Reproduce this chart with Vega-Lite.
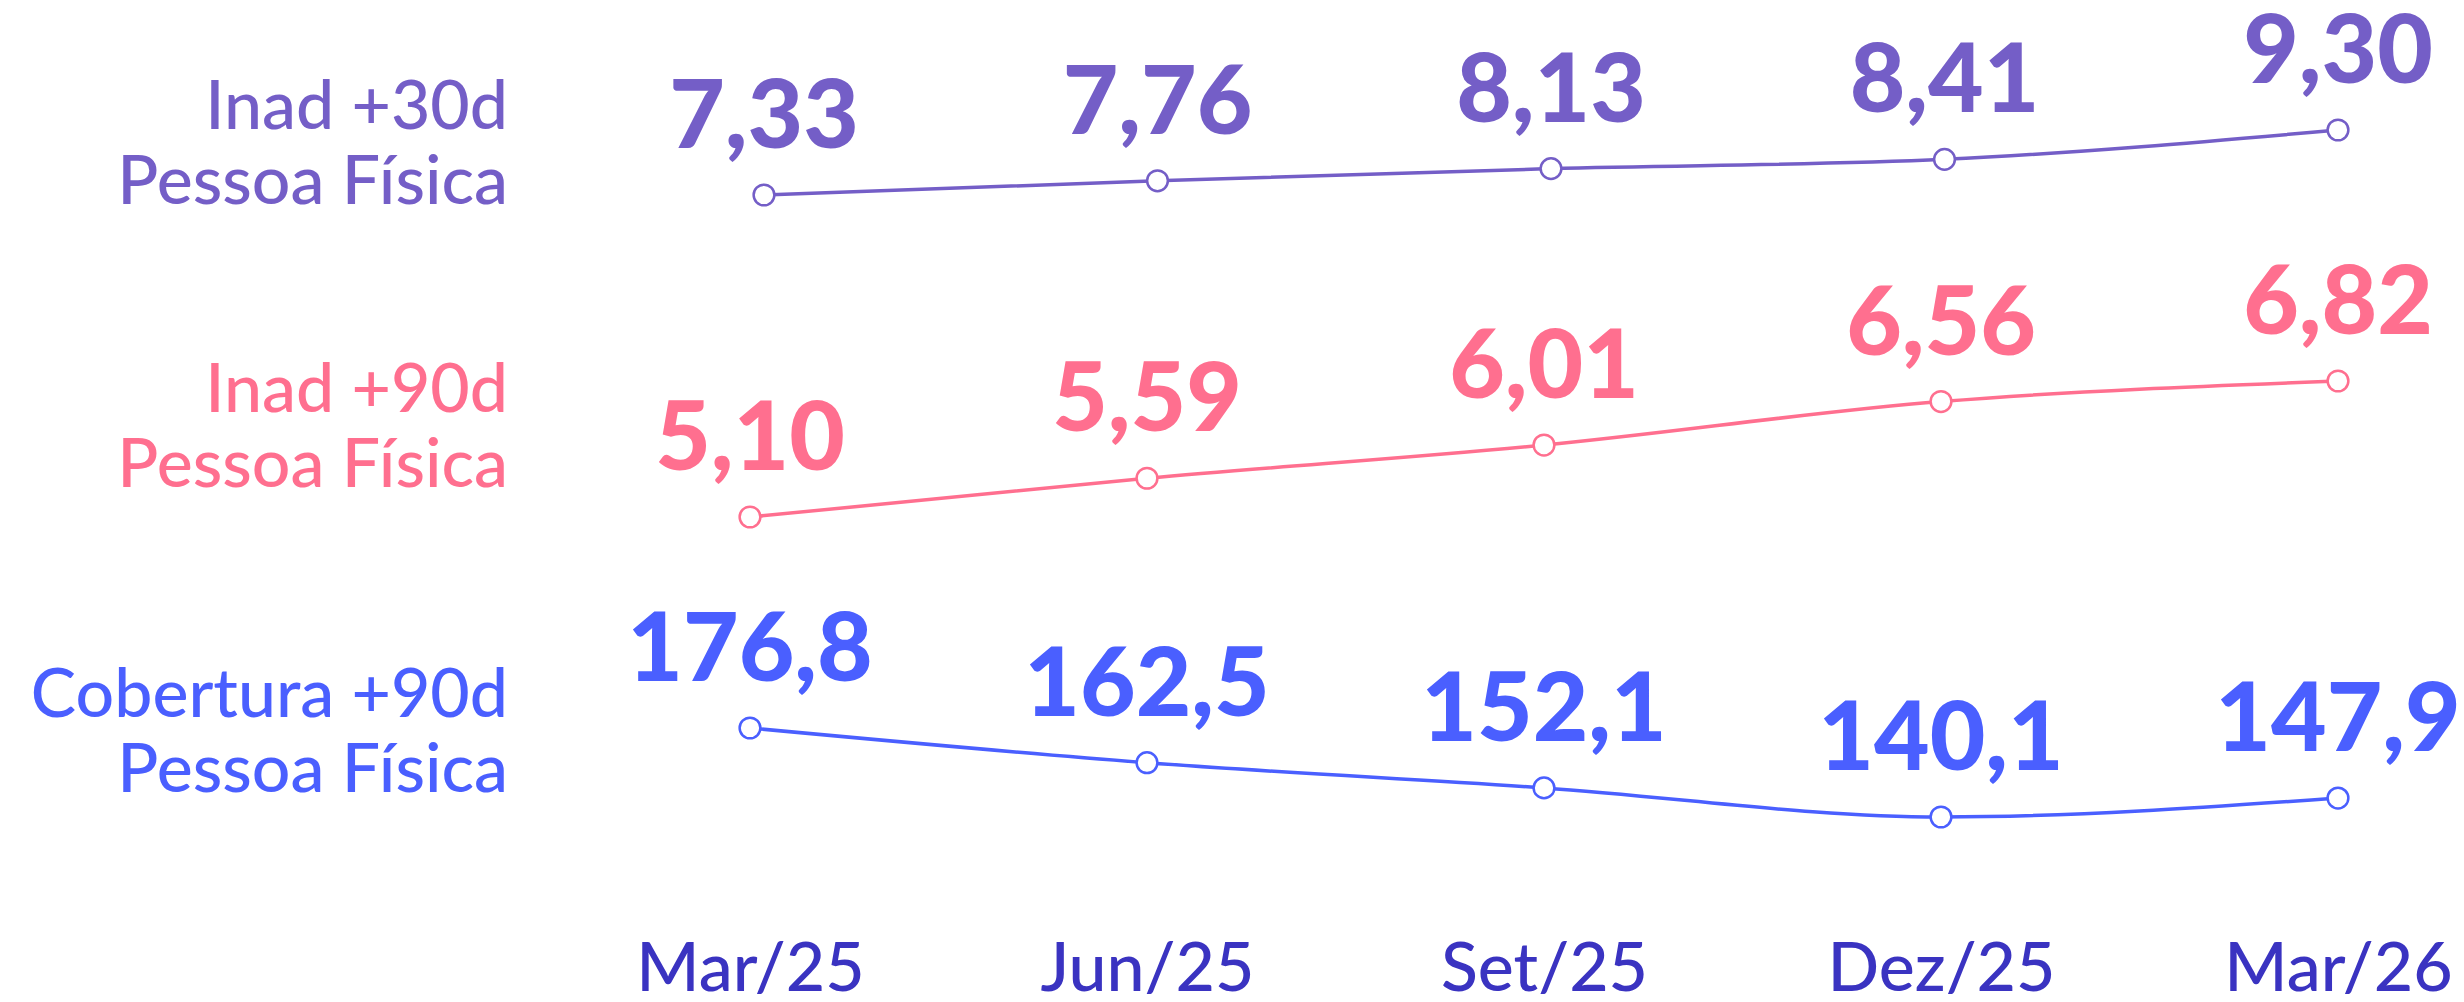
{
  "$schema": "https://vega.github.io/schema/vega-lite/v6.json",
  "width": 2464,
  "height": 1002,
  "autosize": {"type": "none"},
  "padding": 0,
  "background": "white",
  "config": {
    "view": {"stroke": null},
    "locale": {"number": {"decimal": ",", "thousands": ".", "grouping": [3], "currency": ["R$", ""]}}
  },
  "datasets": {
    "inad30": [
      {"serie": "Inad +30d\nPessoa Física", "mes": "Mar/25", "valor": 7.33},
      {"serie": "Inad +30d\nPessoa Física", "mes": "Jun/25", "valor": 7.76},
      {"serie": "Inad +30d\nPessoa Física", "mes": "Set/25", "valor": 8.13},
      {"serie": "Inad +30d\nPessoa Física", "mes": "Dez/25", "valor": 8.41},
      {"serie": "Inad +30d\nPessoa Física", "mes": "Mar/26", "valor": 9.30}
    ],
    "inad90": [
      {"serie": "Inad +90d\nPessoa Física", "mes": "Mar/25", "valor": 5.10},
      {"serie": "Inad +90d\nPessoa Física", "mes": "Jun/25", "valor": 5.59},
      {"serie": "Inad +90d\nPessoa Física", "mes": "Set/25", "valor": 6.01},
      {"serie": "Inad +90d\nPessoa Física", "mes": "Dez/25", "valor": 6.56},
      {"serie": "Inad +90d\nPessoa Física", "mes": "Mar/26", "valor": 6.82}
    ],
    "cob90": [
      {"serie": "Cobertura +90d\nPessoa Física", "mes": "Mar/25", "valor": 176.8},
      {"serie": "Cobertura +90d\nPessoa Física", "mes": "Jun/25", "valor": 162.5},
      {"serie": "Cobertura +90d\nPessoa Física", "mes": "Set/25", "valor": 152.1},
      {"serie": "Cobertura +90d\nPessoa Física", "mes": "Dez/25", "valor": 140.1},
      {"serie": "Cobertura +90d\nPessoa Física", "mes": "Mar/26", "valor": 147.9}
    ]
  },
  "layer": [
    {
      "data": {"name": "inad30"},
      "encoding": {
        "x": {"field": "mes", "type": "ordinal", "sort": null,
          "scale": {"type": "point", "domain": ["Mar/25", "Jun/25", "Set/25", "Dez/25", "Mar/26"], "range": [764, 2338], "padding": 0},
          "axis": null},
        "y": {"field": "valor", "type": "quantitative",
          "scale": {"domain": [7.33, 9.30], "range": [195, 130], "nice": false, "zero": false},
          "axis": null}
      },
      "layer": [
        {"mark": {"type": "line", "color": "#745EC7", "strokeWidth": 3.5, "interpolate": "monotone"}, "encoding": {}},
        {"mark": {"type": "circle", "fill": "white", "stroke": "#745EC7", "strokeWidth": 2.5, "size": 430, "opacity": 1}},
        {"mark": {"type": "text", "dy": -47, "fontSize": 96, "fontWeight": 900, "font": "Lato", "color": "#745EC7", "baseline": "alphabetic", "align": "center"},
         "encoding": {"text": {"field": "valor", "type": "quantitative", "format": ".2f"}}},
        {"transform": [{"filter": "datum.mes === 'Mar/25'"}],
         "mark": {"type": "text", "align": "right", "baseline": "alphabetic", "dx": -256, "dy": -66, "lineBreak": "\n", "lineHeight": 75, "fontSize": 68, "font": "Lato", "fontWeight": 500, "color": "#745EC7"},
         "encoding": {"text": {"field": "serie", "type": "nominal"}}}
      ]
    },
    {
      "data": {"name": "inad90"},
      "encoding": {
        "x": {"field": "mes", "type": "ordinal", "sort": null,
          "scale": {"type": "point", "domain": ["Mar/25", "Jun/25", "Set/25", "Dez/25", "Mar/26"], "range": [750, 2338], "padding": 0},
          "axis": null},
        "y": {"field": "valor", "type": "quantitative",
          "scale": {"domain": [5.10, 6.82], "range": [517, 381], "nice": false, "zero": false},
          "axis": null}
      },
      "layer": [
        {"mark": {"type": "line", "color": "#FF6F8F", "strokeWidth": 3.5, "interpolate": "monotone"}, "encoding": {}},
        {"mark": {"type": "circle", "fill": "white", "stroke": "#FF6F8F", "strokeWidth": 2.5, "size": 430, "opacity": 1}},
        {"mark": {"type": "text", "dy": -47, "fontSize": 96, "fontWeight": 900, "font": "Lato", "color": "#FF6F8F", "baseline": "alphabetic", "align": "center"},
         "encoding": {"text": {"field": "valor", "type": "quantitative", "format": ".2f"}}},
        {"transform": [{"filter": "datum.mes === 'Mar/25'"}],
         "mark": {"type": "text", "align": "right", "baseline": "alphabetic", "dx": -242, "dy": -105, "lineBreak": "\n", "lineHeight": 75, "fontSize": 68, "font": "Lato", "fontWeight": 500, "color": "#FF6F8F"},
         "encoding": {"text": {"field": "serie", "type": "nominal"}}}
      ]
    },
    {
      "data": {"name": "cob90"},
      "encoding": {
        "x": {"field": "mes", "type": "ordinal", "sort": null,
          "scale": {"type": "point", "domain": ["Mar/25", "Jun/25", "Set/25", "Dez/25", "Mar/26"], "range": [750, 2338], "padding": 0},
          "axis": {"orient": "bottom", "title": null, "domain": false, "ticks": false, "tickSize": 0, "labelPadding": 0, "offset": -12, "labelBaseline": "alphabetic", "labelFontSize": 68, "labelFont": "Lato", "labelFontWeight": 500, "labelColor": "#3A33C1", "grid": false, "labelAngle": 0, "labelLimit": 0, "labelOverlap": false}},
        "y": {"field": "valor", "type": "quantitative",
          "scale": {"domain": [140.1, 176.8], "range": [817, 728], "nice": false, "zero": false},
          "axis": null}
      },
      "layer": [
        {"mark": {"type": "line", "color": "#4A5FFF", "strokeWidth": 3.5, "interpolate": "monotone"}, "encoding": {}},
        {"mark": {"type": "circle", "fill": "white", "stroke": "#4A5FFF", "strokeWidth": 2.5, "size": 430, "opacity": 1}},
        {"mark": {"type": "text", "dy": -47, "fontSize": 96, "fontWeight": 900, "font": "Lato", "color": "#4A5FFF", "baseline": "alphabetic", "align": "center"},
         "encoding": {"text": {"field": "valor", "type": "quantitative", "format": ".1f"}}},
        {"transform": [{"filter": "datum.mes === 'Mar/25'"}],
         "mark": {"type": "text", "align": "right", "baseline": "alphabetic", "dx": -242, "dy": -11, "lineBreak": "\n", "lineHeight": 75, "fontSize": 68, "font": "Lato", "fontWeight": 500, "color": "#4A5FFF"},
         "encoding": {"text": {"field": "serie", "type": "nominal"}}}
      ]
    }
  ],
  "resolve": {"scale": {"x": "independent", "y": "independent"}}
}
